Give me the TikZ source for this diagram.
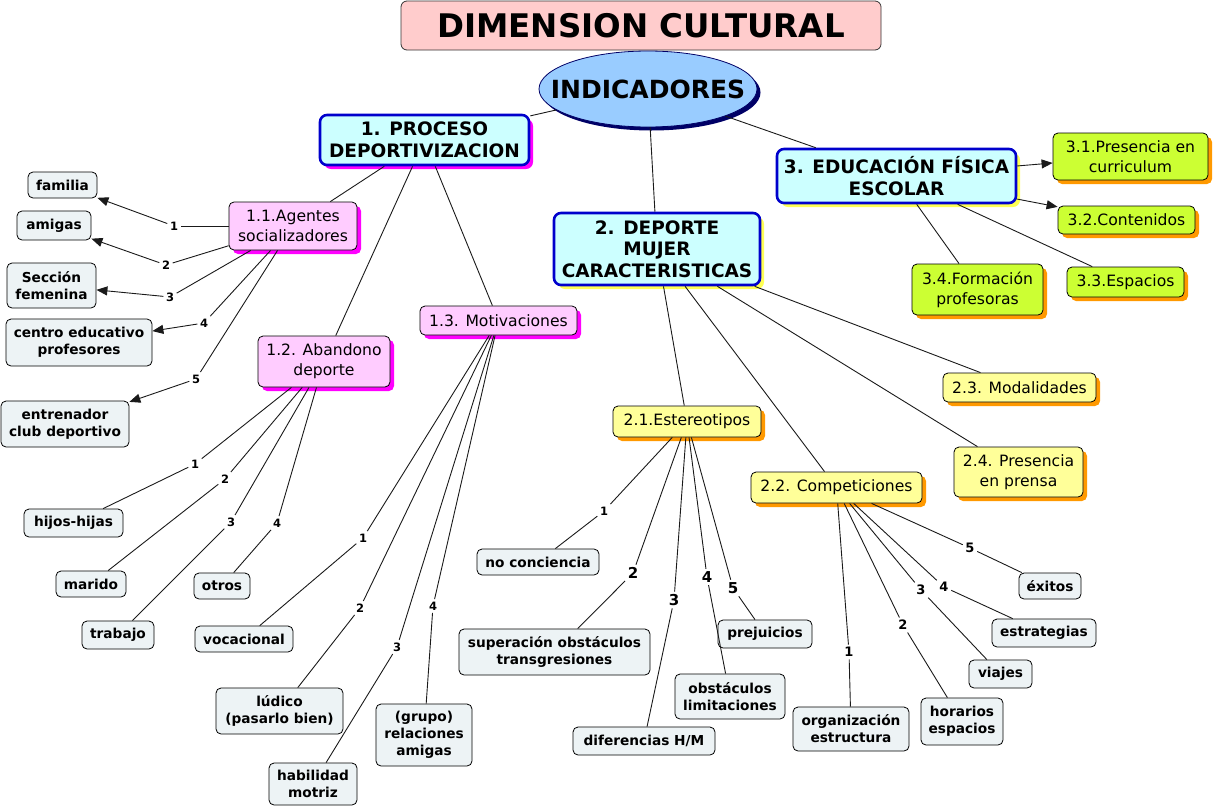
\documentclass[tikz,border=0pt]{standalone}
\usepackage{fontspec}
\setmainfont{DejaVu Sans}
\usetikzlibrary{shapes.geometric,shadows,arrows.meta}
\definecolor{titlefill}{HTML}{FFCCCC}
\definecolor{indfill}{HTML}{99CCFF}
\definecolor{navy}{HTML}{000066}
\definecolor{headfill}{HTML}{CCFFFF}
\definecolor{headborder}{HTML}{0000CC}
\definecolor{magshadow}{HTML}{FF00FF}
\definecolor{yelshadow}{HTML}{FFFF55}
\definecolor{pinkfill}{HTML}{FFCCFF}
\definecolor{yelfill}{HTML}{FFFF99}
\definecolor{orshadow}{HTML}{FF9900}
\definecolor{limefill}{HTML}{CCFF33}
\definecolor{leaffill}{HTML}{EDF3F5}
\definecolor{linecol}{HTML}{1A1A1A}
\newcommand\fsz[2]{\fontsize{#1}{#2}\selectfont}
\tikzset{
  wh/.style 2 args={minimum width=#1pt, minimum height=#2pt},
  base/.style={rectangle, rounded corners=5pt, inner sep=0pt, align=center, draw=black, line width=0.8pt},
  titlebox/.style={base, draw=black!80, fill=titlefill, font=\bfseries\fsz{32.5}{38}, rounded corners=6pt},
  indic/.style={ellipse, draw=navy, line width=0.8pt, fill=indfill, inner sep=0pt,
     font=\bfseries\fsz{25}{30},
     drop shadow={fill=navy, opacity=1, shadow xshift=3.5pt, shadow yshift=-3.5pt}},
  head/.style={base, draw=headborder, line width=2.6pt, fill=headfill, font=\bfseries\fsz{18.5}{21.5}, rounded corners=7pt},
  headmag/.style={head, drop shadow={fill=magshadow, opacity=1, shadow xshift=4pt, shadow yshift=-4pt}},
  headyel/.style={head, drop shadow={fill=yelshadow, opacity=1, shadow xshift=4pt, shadow yshift=-4pt}},
  subpink/.style={base, fill=pinkfill, font=\fsz{15.6}{20}, drop shadow={fill=magshadow, opacity=1, shadow xshift=4pt, shadow yshift=-4pt}},
  subyel/.style={base, fill=yelfill, font=\fsz{15.6}{20}, drop shadow={fill=orshadow, opacity=1, shadow xshift=4pt, shadow yshift=-4pt}},
  sublime/.style={base, fill=limefill, font=\fsz{15.6}{20}, drop shadow={fill=orshadow, opacity=1, shadow xshift=4pt, shadow yshift=-4pt}},
  leaf/.style={base, fill=leaffill, font=\bfseries\fsz{13.7}{17}},
  lab/.style={inner sep=2.5pt, font=\bfseries\fsz{11.5}{13}},
  labbig/.style={inner sep=2.5pt, font=\bfseries\fsz{15}{17}},
  labmid/.style={inner sep=2.5pt, font=\bfseries\fsz{13}{15}},
  conn/.style={draw=linecol, line width=0.9pt},
  arr/.style={conn, -{Triangle[length=11pt,width=9pt]}}
}
\begin{document}
\begin{tikzpicture}[x=1pt,y=-1pt]
\useasboundingbox (0,0) rectangle (1215,809);
% top
\node[titlebox, wh={480}{49}] (title) at (641,25.5) {DIMENSION CULTURAL};
\node[indic, wh={218}{76}] (ind) at (648,89) {\makebox[0pt]{INDICADORES}};
% headlines
\node[headmag, wh={209}{50}] (p1) at (424.5,140) {1. PROCESO\\DEPORTIVIZACION};
\node[headyel, wh={206}{72}] (p2) at (657,249) {2. DEPORTE\\MUJER\\CARACTERISTICAS};
\node[headyel, wh={239}{54}] (p3) at (896.5,176) {3. EDUCACIÓN FÍSICA\\ESCOLAR};
% sub nodes
\node[subpink, wh={128}{48}] (s11) at (293,226) {1.1.Agentes\\socializadores};
\node[subpink, wh={132}{51}] (s12) at (324,361.5) {1.2. Abandono\\deporte};
\node[subpink, wh={157}{29}] (s13) at (498.5,320.5) {1.3. Motivaciones};
\node[subyel, wh={148}{31}] (s21) at (687,421.5) {2.1.Estereotipos};
\node[subyel, wh={171}{31}] (s22) at (836.5,487.5) {2.2. Competiciones};
\node[subyel, wh={153}{29}] (s23) at (1019.5,387.5) {2.3. Modalidades};
\node[subyel, wh={129}{50}] (s24) at (1018.5,472) {2.4. Presencia\\en prensa};
\node[sublime, wh={155}{47}] (s31) at (1130.5,156.5) {3.1.Presencia en\\curriculum};
\node[sublime, wh={137}{28}] (s32) at (1126.5,220) {3.2.Contenidos};
\node[sublime, wh={117}{30}] (s33) at (1125.5,282) {3.3.Espacios};
\node[sublime, wh={131}{51}] (s34) at (977.5,289.5) {3.4.Formación\\profesoras};
% leaves
\node[leaf, wh={69}{26}] (familia) at (62.5,185) {familia};
\node[leaf, wh={74}{29}] (amigas) at (54,225.5) {amigas};
\node[leaf, wh={89}{45}] (seccion) at (51.5,285.5) {Sección\\femenina};
\node[leaf, wh={146}{47}] (centro) at (79,342.5) {centro educativo\\profesores};
\node[leaf, wh={128}{46}] (entren) at (65,424) {entrenador\\club deportivo};
\node[leaf, wh={99}{28}] (hijos) at (73.5,523) {hijos-hijas};
\node[leaf, wh={70}{26}] (marido) at (91,584) {marido};
\node[leaf, wh={72}{28}] (trabajo) at (118,635) {trabajo};
\node[leaf, wh={56}{26}] (otros) at (222,586) {otros};
\node[leaf, wh={98}{26}] (vocac) at (244,639) {vocacional};
\node[leaf, wh={127}{46}] (ludico) at (279.5,711) {lúdico\\(pasarlo bien)};
\node[leaf, wh={88}{42}] (habil) at (313,784) {habilidad\\motriz};
\node[leaf, wh={96}{62}] (grupo) at (424,735) {(grupo)\\relaciones\\amigas};
\node[leaf, wh={122}{26}] (noconc) at (538,562) {no conciencia};
\node[leaf, wh={191}{46}] (superac) at (554.5,652) {superación obstáculos\\transgresiones};
\node[leaf, wh={142}{28}] (difer) at (644,741) {diferencias H/M};
\node[leaf, wh={110}{45}] (obstac) at (730,696.5) {obstáculos\\limitaciones};
\node[leaf, wh={94}{28}] (prejui) at (765,634) {prejuicios};
\node[leaf, wh={116}{44}] (organiz) at (851,729) {organización\\estructura};
\node[leaf, wh={82}{47}] (horar) at (962,721.5) {horarios\\espacios};
\node[leaf, wh={63}{28}] (viajes) at (1000.5,674) {viajes};
\node[leaf, wh={104}{28}] (estrat) at (1044,633) {estrategias};
\node[leaf, wh={62}{26}] (exitos) at (1050,586) {éxitos};
% linking labels
\node[lab] (l111) at (174,226) {1};
\node[lab] (l112) at (166,265) {2};
\node[lab] (l113) at (170,297) {3};
\node[lab] (l114) at (204,323) {4};
\node[lab] (l115) at (196,379) {5};
\node[lab] (l121) at (195,464) {1};
\node[lab] (l122) at (225,479) {2};
\node[lab] (l123) at (231,522) {3};
\node[lab] (l124) at (277,523) {4};
\node[lab] (l131) at (363,538) {1};
\node[lab] (l132) at (360,608) {2};
\node[lab] (l133) at (397,647) {3};
\node[lab] (l134) at (433,606) {4};
\node[lab] (l211) at (604,511) {1};
\node[labbig] (l212) at (633,573) {2};
\node[labbig] (l213) at (674,600) {3};
\node[labbig] (l214) at (707,577) {4};
\node[labbig] (l215) at (733,588) {5};
\node[labmid] (l221) at (849,652) {1};
\node[labmid] (l222) at (903,625) {2};
\node[labmid] (l223) at (921,590) {3};
\node[labmid] (l224) at (944,587) {4};
\node[labmid] (l225) at (970,548) {5};
% connectors
\draw[conn] (ind) -- (p1);
\draw[conn] (ind) -- (p2);
\draw[conn] (ind) -- (p3);
\draw[conn] (p1) -- (s11);
\draw[conn] (p1) -- (s12);
\draw[conn] (p1) -- (s13);
\draw[conn] (p2) -- (s21);
\draw[conn] (p2) -- (s22);
\draw[conn] (p2) -- (s23);
\draw[conn] (p2) -- (s24);
\draw[arr] (p3) -- (s31);
\draw[arr] (p3) -- (s32);
\draw[conn] (p3) -- (s33);
\draw[conn] (p3) -- (s34);
% 1.1
\draw[conn] (s11) -- (l111); \draw[arr] (l111) -- (familia);
\draw[conn] (s11) -- (l112); \draw[arr] (l112) -- (amigas);
\draw[conn] (s11) -- (l113); \draw[arr] (l113) -- (seccion);
\draw[conn] (s11) -- (l114); \draw[arr] (l114) -- (centro);
\draw[conn] (s11) -- (l115); \draw[arr] (l115) -- (entren);
% 1.2
\draw[conn] (s12) -- (l121); \draw[conn] (l121) -- (hijos);
\draw[conn] (s12) -- (l122); \draw[conn] (l122) -- (marido);
\draw[conn] (s12) -- (l123); \draw[conn] (l123) -- (trabajo);
\draw[conn] (s12) -- (l124); \draw[conn] (l124) -- (otros);
% 1.3
\draw[conn] (s13) -- (l131); \draw[conn] (l131) -- (vocac);
\draw[conn] (s13) -- (l132); \draw[conn] (l132) -- (ludico);
\draw[conn] (s13) -- (l133); \draw[conn] (l133) -- (habil);
\draw[conn] (s13) -- (l134); \draw[conn] (l134) -- (grupo);
% 2.1
\draw[conn] (s21) -- (l211); \draw[conn] (l211) -- (noconc);
\draw[conn] (s21) -- (l212); \draw[conn] (l212) -- (superac);
\draw[conn] (s21) -- (l213); \draw[conn] (l213) -- (difer);
\draw[conn] (s21) -- (l214); \draw[conn] (l214) -- (obstac);
\draw[conn] (s21) -- (l215); \draw[conn] (l215) -- (prejui);
% 2.2
\draw[conn] (s22) -- (l221); \draw[conn] (l221) -- (organiz);
\draw[conn] (s22) -- (l222); \draw[conn] (l222) -- (horar);
\draw[conn] (s22) -- (l223); \draw[conn] (l223) -- (viajes);
\draw[conn] (s22) -- (l224); \draw[conn] (l224) -- (estrat);
\draw[conn] (s22) -- (l225); \draw[conn] (l225) -- (exitos);
\end{tikzpicture}
\end{document}
